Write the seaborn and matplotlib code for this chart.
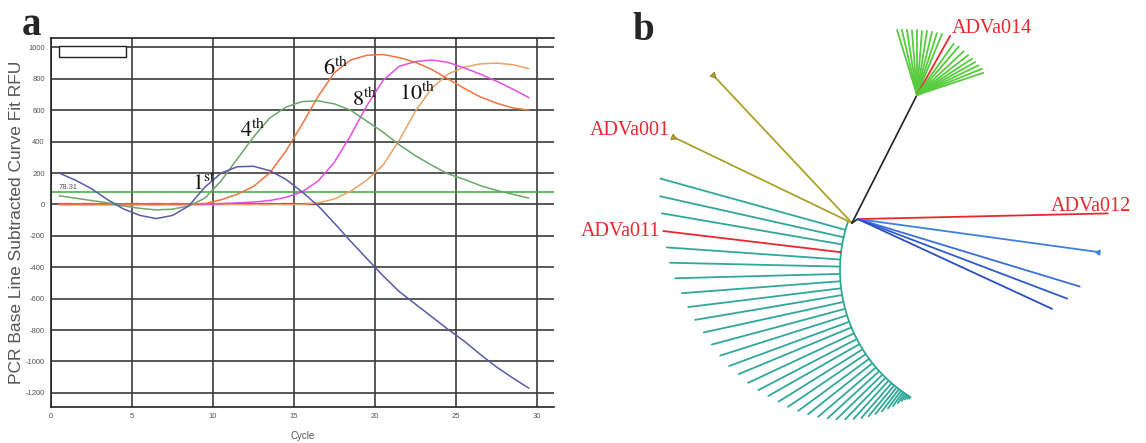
import numpy as np
import pandas as pd
import matplotlib
matplotlib.use("Agg")
import matplotlib.pyplot as plt
from matplotlib.ticker import MultipleLocator
from matplotlib.patches import Rectangle
import seaborn as sns

# ---- panel a: amplification curves (RFU per cycle) ----
cycles = [0.5, 1.5, 2.5, 3.5, 4.5, 5.5, 6.5, 7.5, 8.5, 9.5,
          10.5, 11.5, 12.5, 13.5, 14.5, 15.5, 16.5, 17.5, 18.5, 19.5,
          20.5, 21.5, 22.5, 23.5, 24.5, 25.5, 26.5, 27.5, 28.5, 29.5]

rfu_1st = [200, 155, 100, 30, -30, -70, -90, -70, -10, 110,
           200, 240, 243, 215, 160, 80, -10, -120, -235, -345,
           -455, -555, -635, -715, -795, -870, -955, -1035, -1105, -1170]
rfu_4th = [55, 40, 25, 10, -10, -25, -35, -30, -10, 40,
           150, 290, 430, 550, 620, 655, 660, 640, 600, 530,
           460, 380, 310, 250, 195, 160, 120, 90, 65, 40]
rfu_6th = [0, 0, 0, 0, 0, 0, 0, 0, 0, 5,
           30, 65, 115, 200, 340, 510, 690, 840, 920, 950,
           955, 935, 905, 860, 800, 740, 685, 645, 615, 600]
rfu_8th = [0, 0, 0, 0, 0, 0, 0, 0, 0, 0,
           5, 10, 15, 25, 45, 80, 150, 270, 440, 630,
           790, 880, 910, 920, 905, 870, 830, 785, 735, 680]
rfu_10th = [0, 0, 0, 0, 0, 0, 0, 0, 0, 0,
            0, 0, 0, 0, 0, 0, 10, 35, 85, 155,
            250, 410, 595, 740, 830, 875, 895, 900, 890, 865]
ntc_cycles = [0.5, 1.5, 2.5, 3.5, 4.5, 5.5, 6.5, 7.5, 8.5, 9.5,
              10.5, 11.5, 12.5, 13.5, 14.5, 15.5, 16.5]
rfu_ntc = [0, 0, 0, 0, 0, 0, 0, 0, 0, 0, 0, 0, 0, 0, 0, 0, 0]
threshold = 78.31

# ---- panel b: tree (angles in degrees, branch lengths) ----
yellow_angles = [133.2, 154.3]
yellow_lengths = [203, 199]
stem_angle, stem_length = 63.1, 143.5          # root -> green clade node
green_angles = [107, 103, 98.7, 94.4, 90, 85.5, 81.1, 76.6, 72.1, 67.7,
                60.7,
                54.4, 49.2, 43.1, 37.9, 33.4, 29.5, 25.7, 22.0, 18.5]
green_lengths = [68, 67, 66, 65, 65, 64, 65, 65, 65, 66,
                 68,
                 63, 64, 64, 65, 66, 67, 68.5, 70, 70]
green_red = 10                                  # ADVa014
blue_node_angle, blue_node_length = 34, 7
blue_angles = [1.3, -7.8, -16.9, -20.8, -24.8]
blue_lengths = [250, 242, 232, 224, 214]
blue_red = 0                                    # ADVa012
teal_angles = [164.5, 167.4, 170.2, 173.2, 176.0, 178.7, 181.5, 184.3, 187.0, 189.6,
               192.3, 195.0, 197.6, 200.2, 202.5, 205.0, 207.4, 209.6, 211.9, 214.1,
               216.3, 218.4, 220.5, 222.4, 224.2, 225.9, 227.5, 229.0, 230.3, 231.5,
               232.6, 233.6, 234.5, 235.3, 236.0, 236.7, 237.3, 237.8]
teal_lengths = [192, 188, 183, 179, 174, 170, 165, 159, 154, 149,
                143, 138, 133, 128, 122, 117, 111, 105, 99, 94,
                88, 82, 76, 70, 64, 58, 52, 46, 40, 34,
                28, 22, 17, 12, 8, 5, 3, 2]
teal_red = 3                                    # ADVa011

sns.set_style("white")
plt.rcParams['font.family'] = ['Liberation Sans', 'DejaVu Sans']
plt.rcParams['mathtext.fontset'] = 'stix'
plt.rcParams['axes.unicode_minus'] = False

fig = plt.figure(figsize=(11.46, 4.43), dpi=100)

# ================= panel a =================
ax = fig.add_axes([51 / 1146, 36 / 443, 503 / 1146, 369 / 443])

names = ['1st', '4th', '6th', '8th', '10th']
series = [rfu_1st, rfu_4th, rfu_6th, rfu_8th, rfu_10th]
df = pd.DataFrame({
    'cycle': np.tile(cycles, len(names)),
    'rfu': np.concatenate(series),
    'sample': np.repeat(names, len(cycles)),
})
palette = {'1st': '#5a5aa6', '4th': '#6aa86a', '6th': '#ee7440',
           '8th': '#e44ee4', '10th': '#e8a466'}

ax.plot(ntc_cycles, rfu_ntc, color='#b83030', lw=1.6, dashes=(6, 4), zorder=2)
sns.lineplot(data=df, x='cycle', y='rfu', hue='sample', palette=palette,
             hue_order=['10th', '8th', '6th', '4th', '1st'],
             estimator=None, sort=False, lw=1.1, legend=False, ax=ax, zorder=3)
ax.axhline(threshold, color='#3aaa3a', lw=1.1, zorder=2.5)
ax.text(0.45, threshold + 8, f"{threshold:.2f}", fontsize=5.5, color='#555555',
        ha='left', va='bottom')

ax.set_xlim(0, 31.05)
ax.set_ylim(-1290, 1060)
ax.set_xticks(range(0, 31, 5))
ax.set_yticks(range(-1200, 1001, 200))
ax.xaxis.set_minor_locator(MultipleLocator(1))
ax.yaxis.set_minor_locator(MultipleLocator(50))
ax.grid(True, which='major', color='#3c3c3c', lw=1.2)
ax.set_axisbelow(True)
ax.tick_params(which='major', direction='out', length=2.5, width=0.8,
               labelsize=5.5, labelcolor='#555555', color='#555555', pad=2)
ax.tick_params(which='minor', direction='in', length=3, width=0.6, color='#777777')
for side in ['left', 'top', 'bottom']:
    ax.spines[side].set_color('#222222')
    ax.spines[side].set_linewidth(1.2)
ax.spines['right'].set_visible(False)
ax.set_xlabel('Cycle', fontsize=7, color='#555555', labelpad=8)
ax.set_ylabel('PCR Base Line Subtracted Curve Fit RFU', fontsize=12.5,
              color='#555555', labelpad=1)

ax.add_patch(Rectangle((0.016, 0.948), 0.133, 0.030, transform=ax.transAxes,
                       facecolor='white', edgecolor='#222222', lw=1.0, zorder=5))

label_pos = {'1st': (8.7, 92), '4th': (11.65, 430), '6th': (16.8, 825),
             '8th': (18.6, 627), '10th': (21.5, 665)}
for name, (lx, ly) in label_pos.items():
    num, suf = name[:-2], name[-2:]
    ax.text(lx, ly, num + r'$^{\mathrm{' + suf + '}}$', fontsize=16,
            family='STIXGeneral', color='#111111', ha='left', va='baseline', zorder=6)

# ================= panel b =================
axb = fig.add_axes([570 / 1146, 0, 576 / 1146, 1])
axb.set_xlim(-282, 294)
axb.set_ylim(-220, 223)
axb.axis('off')

RED = '#e8282e'
TEAL = '#30a898'
lab_kw = dict(fontsize=14.5, family=['Liberation Serif', 'DejaVu Serif'],
              color=RED, textcoords='offset points')


def tip(origin, ang, length):
    a = np.deg2rad(ang)
    return origin + length * np.array([np.cos(a), np.sin(a)])


root = np.array([0.0, 0.0])

# teal clade: leaves on an arc
arc_c = root + np.array([138.0, -47.0])
arc_r = 150.0
th = np.deg2rad(np.linspace(161, 238, 120))
axb.plot(arc_c[0] + arc_r * np.cos(th), arc_c[1] + arc_r * np.sin(th),
         color=TEAL, lw=1.3, solid_capstyle='round')
for i, (a, L) in enumerate(zip(teal_angles, teal_lengths)):
    p0 = tip(arc_c, a, arc_r)
    p1 = tip(arc_c, a, arc_r + L)
    axb.plot([p0[0], p1[0]], [p0[1], p1[1]], color=RED if i == teal_red else TEAL,
             lw=1.3)
p = tip(arc_c, teal_angles[teal_red], arc_r + teal_lengths[teal_red])
axb.annotate('ADVa011', p, xytext=(-2, 0), ha='right', va='center', **lab_kw)

# yellow clade
for k, (a, L) in enumerate(zip(yellow_angles, yellow_lengths)):
    p1 = tip(root, a, L)
    axb.plot([root[0], p1[0]], [root[1], p1[1]], color='#aaa22a', lw=1.3)
    axb.plot(*p1, marker=(3, 0, a + 90), ms=5, color='#b8a030', mec='#8a7a20', mew=0.6)
p = tip(root, yellow_angles[1], yellow_lengths[1])
axb.annotate('ADVa001', p, xytext=(-2, 1), ha='right', va='baseline', **lab_kw)

# black stem + green clade
g = tip(root, stem_angle, stem_length)
axb.plot([root[0], g[0]], [root[1], g[1]], color='#222222', lw=1.2)
for i, (a, L) in enumerate(zip(green_angles, green_lengths)):
    p0 = tip(g, a, 4)
    p1 = tip(g, a, L)
    axb.plot([g[0], p0[0], p1[0]], [g[1], p0[1], p1[1]],
             color=RED if i == green_red else '#55cc3c', lw=1.3)
p = tip(g, green_angles[green_red], green_lengths[green_red])
axb.annotate('ADVa014', p, xytext=(1, 2), ha='left', va='baseline', **lab_kw)

# blue clade
b = tip(root, blue_node_angle, blue_node_length)
axb.plot([root[0], b[0]], [root[1], b[1]], color='#222222', lw=1.2)
blue_cols = [RED, '#3d80e0', '#3a70d8', '#2f5cc8', '#2a4fc0']
for i, (a, L) in enumerate(zip(blue_angles, blue_lengths)):
    p1 = tip(b, a, L)
    axb.plot([b[0], p1[0]], [b[1], p1[1]], color=blue_cols[i], lw=1.3)
p1 = tip(b, blue_angles[1], blue_lengths[1])
axb.plot(*p1, marker=(3, 0, blue_angles[1] + 90), ms=4, color='#3d80e0')
p = tip(b, blue_angles[blue_red], blue_lengths[blue_red])
axb.annotate('ADVa012', p, xytext=(17, 2), ha='right', va='baseline', **lab_kw)

# panel letters
fig.text(22 / 1146, 1 - 35 / 443, 'a', fontsize=28, fontweight='bold',
         family=['Liberation Serif', 'DejaVu Serif'], ha='left', va='baseline')
fig.text(632 / 1146, 1 - 40 / 443, 'b', fontsize=28, fontweight='bold',
         family=['Liberation Serif', 'DejaVu Serif'], ha='left', va='baseline')

fig.savefig('out.png', dpi=100)
